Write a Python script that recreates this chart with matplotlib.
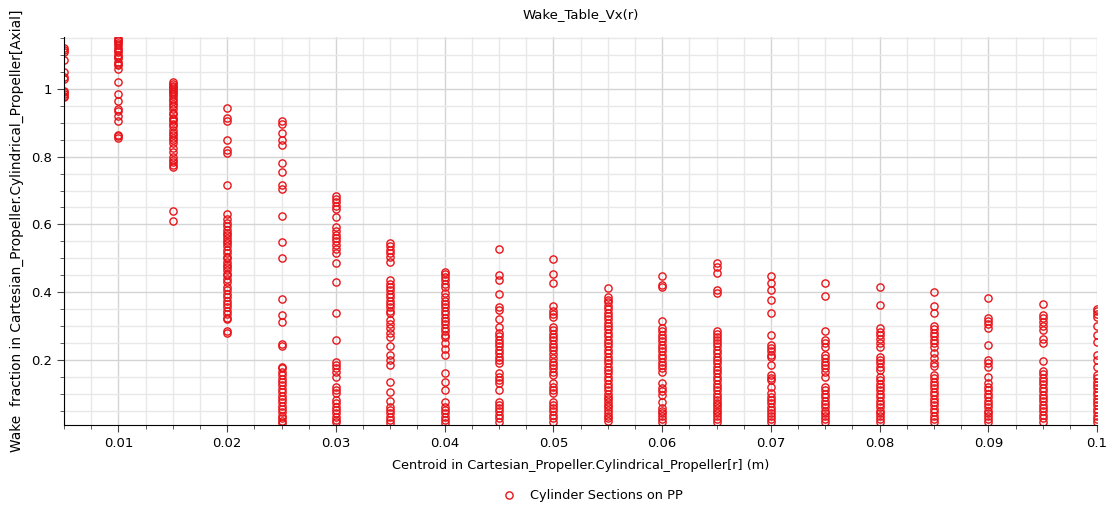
import numpy as np
import matplotlib
matplotlib.use("Agg")
import matplotlib.pyplot as plt
from matplotlib.ticker import MultipleLocator, FuncFormatter

# radial positions of the cylinder sections (m)
radii = [0.005, 0.01, 0.015, 0.02, 0.025, 0.03, 0.035, 0.04, 0.045, 0.05,
         0.055, 0.06, 0.065, 0.07, 0.075, 0.08, 0.085, 0.09, 0.095, 0.1]

# wake fraction values read per radius
wake_r005 = [1.12, 1.115, 1.11, 1.085, 1.05, 1.035, 1.03, 0.995, 0.99, 0.985, 0.98, 0.975]
wake_r010 = [1.15, 1.145, 1.14, 1.135, 1.13, 1.12, 1.115, 1.11, 1.10, 1.095, 1.09, 1.08, 1.075,
             1.07, 1.06, 1.02, 0.985, 0.965, 0.94, 0.935, 0.92, 0.905, 0.865, 0.86, 0.855]
wake_r015 = [1.02, 1.015, 1.01, 1.005, 1.0, 0.995, 0.99, 0.985, 0.98, 0.97, 0.965, 0.955, 0.95,
             0.94, 0.93, 0.925, 0.915, 0.91, 0.905, 0.895, 0.89, 0.88, 0.87, 0.865, 0.855, 0.85,
             0.84, 0.825, 0.815, 0.80, 0.79, 0.785, 0.775, 0.77, 0.64, 0.61]
wake_r020 = [0.945, 0.915, 0.905, 0.85, 0.82, 0.81, 0.715, 0.63, 0.615, 0.605, 0.595, 0.585,
             0.575, 0.57, 0.56, 0.55, 0.545, 0.535, 0.525, 0.515, 0.505, 0.50, 0.49, 0.48, 0.475,
             0.465, 0.455, 0.45, 0.44, 0.43, 0.415, 0.405, 0.395, 0.385, 0.375, 0.365, 0.355,
             0.345, 0.335, 0.325, 0.32, 0.285, 0.28]
wake_r025 = [0.905, 0.895, 0.87, 0.85, 0.835, 0.78, 0.755, 0.715, 0.705, 0.625, 0.548, 0.502,
             0.38, 0.333, 0.313, 0.248, 0.24, 0.18, 0.175, 0.165, 0.155, 0.145, 0.135, 0.125,
             0.115, 0.105, 0.095, 0.085, 0.075, 0.065, 0.055, 0.045, 0.035, 0.028, 0.02, 0.014]
wake_r030 = [0.685, 0.675, 0.665, 0.655, 0.645, 0.622, 0.593, 0.58, 0.57, 0.56, 0.55, 0.54,
             0.528, 0.515, 0.485, 0.431, 0.34, 0.259, 0.195, 0.185, 0.175, 0.165, 0.151, 0.121,
             0.11, 0.102, 0.082, 0.072, 0.062, 0.052, 0.042, 0.032, 0.024, 0.016]
wake_r035 = [0.544, 0.535, 0.525, 0.515, 0.505, 0.49, 0.436, 0.425, 0.415, 0.405, 0.395, 0.385,
             0.375, 0.365, 0.355, 0.345, 0.338, 0.318, 0.305, 0.295, 0.28, 0.269, 0.242, 0.215,
             0.2, 0.185, 0.136, 0.106, 0.08, 0.062, 0.052, 0.042, 0.032, 0.024, 0.014]
wake_r040 = [0.461, 0.455, 0.445, 0.435, 0.425, 0.416, 0.397, 0.385, 0.375, 0.365, 0.355, 0.345,
             0.335, 0.325, 0.315, 0.305, 0.295, 0.285, 0.275, 0.269, 0.249, 0.232, 0.215, 0.161,
             0.136, 0.111, 0.077, 0.062, 0.052, 0.042, 0.032, 0.022, 0.013]
wake_r045 = [0.527, 0.451, 0.436, 0.395, 0.357, 0.348, 0.321, 0.298, 0.279, 0.27, 0.26, 0.25,
             0.24, 0.23, 0.22, 0.21, 0.2, 0.19, 0.161, 0.15, 0.14, 0.131, 0.111, 0.077, 0.068,
             0.058, 0.048, 0.038, 0.028, 0.018]
wake_r050 = [0.498, 0.454, 0.428, 0.359, 0.345, 0.335, 0.328, 0.298, 0.288, 0.278, 0.268, 0.258,
             0.248, 0.238, 0.228, 0.218, 0.205, 0.195, 0.185, 0.175, 0.165, 0.156, 0.131, 0.12,
             0.11, 0.102, 0.077, 0.068, 0.058, 0.048, 0.038, 0.028, 0.018]
wake_r055 = [0.411, 0.387, 0.378, 0.37, 0.36, 0.35, 0.34, 0.33, 0.32, 0.31, 0.3, 0.29, 0.28,
             0.27, 0.26, 0.25, 0.24, 0.23, 0.22, 0.21, 0.2, 0.19, 0.18, 0.17, 0.16, 0.15, 0.14,
             0.13, 0.12, 0.11, 0.1, 0.092, 0.084, 0.076, 0.068, 0.06, 0.052, 0.044, 0.036,
             0.028, 0.02]
wake_r060 = [0.449, 0.421, 0.415, 0.315, 0.293, 0.284, 0.275, 0.265, 0.255, 0.245, 0.235, 0.225,
             0.215, 0.205, 0.195, 0.185, 0.175, 0.165, 0.131, 0.117, 0.107, 0.097, 0.077, 0.058,
             0.05, 0.042, 0.034, 0.026, 0.018]
wake_r065 = [0.487, 0.473, 0.456, 0.407, 0.398, 0.284, 0.276, 0.268, 0.26, 0.25, 0.24, 0.23,
             0.22, 0.21, 0.2, 0.19, 0.18, 0.17, 0.16, 0.15, 0.14, 0.13, 0.12, 0.11, 0.1, 0.09,
             0.082, 0.074, 0.066, 0.058, 0.05, 0.042, 0.034, 0.026, 0.018]
wake_r070 = [0.449, 0.426, 0.405, 0.377, 0.338, 0.274, 0.244, 0.235, 0.225, 0.215, 0.21, 0.185,
             0.156, 0.148, 0.141, 0.121, 0.102, 0.092, 0.082, 0.072, 0.062, 0.052, 0.042, 0.034,
             0.026, 0.018]
wake_r075 = [0.426, 0.39, 0.286, 0.259, 0.25, 0.239, 0.215, 0.205, 0.195, 0.185, 0.175, 0.165,
             0.151, 0.121, 0.11, 0.1, 0.09, 0.08, 0.07, 0.06, 0.05, 0.042, 0.034, 0.026, 0.018]
wake_r080 = [0.416, 0.361, 0.293, 0.283, 0.273, 0.263, 0.25, 0.239, 0.21, 0.2, 0.19, 0.18, 0.17,
             0.151, 0.14, 0.13, 0.12, 0.11, 0.1, 0.09, 0.08, 0.07, 0.06, 0.05, 0.042, 0.034,
             0.026, 0.018]
wake_r085 = [0.4, 0.359, 0.34, 0.3, 0.29, 0.28, 0.27, 0.26, 0.249, 0.239, 0.22, 0.205, 0.192,
             0.182, 0.156, 0.146, 0.136, 0.126, 0.116, 0.106, 0.096, 0.086, 0.076, 0.066, 0.056,
             0.046, 0.036, 0.026, 0.018]
wake_r090 = [0.382, 0.323, 0.315, 0.305, 0.293, 0.244, 0.2, 0.19, 0.18, 0.151, 0.131, 0.12,
             0.11, 0.1, 0.09, 0.08, 0.07, 0.06, 0.05, 0.042, 0.034, 0.026, 0.018]
wake_r095 = [0.364, 0.333, 0.323, 0.313, 0.3, 0.289, 0.262, 0.249, 0.198, 0.168, 0.158, 0.148,
             0.138, 0.128, 0.118, 0.108, 0.098, 0.088, 0.078, 0.068, 0.058, 0.048, 0.038, 0.028,
             0.018]
wake_r100 = [0.351, 0.343, 0.335, 0.328, 0.3, 0.274, 0.254, 0.215, 0.2, 0.18, 0.156, 0.146,
             0.136, 0.126, 0.116, 0.106, 0.096, 0.086, 0.076, 0.066, 0.056, 0.046, 0.036, 0.026,
             0.018]

columns = [wake_r005, wake_r010, wake_r015, wake_r020, wake_r025, wake_r030, wake_r035,
           wake_r040, wake_r045, wake_r050, wake_r055, wake_r060, wake_r065, wake_r070,
           wake_r075, wake_r080, wake_r085, wake_r090, wake_r095, wake_r100]

xs = np.concatenate([[r] * len(c) for r, c in zip(radii, columns)])
ys = np.concatenate(columns)

plt.rcParams['font.family'] = ['DejaVu Sans']
fig = plt.figure(figsize=(11.12, 5.08), dpi=100)
ax = fig.add_axes([0.0576, 0.1634, 0.9290, 0.7636])

red = '#e8141a'
ax.plot(xs, ys, linestyle='none', marker='o', markersize=5.2, markerfacecolor='none',
        markeredgecolor=red, markeredgewidth=1.0, label='Cylinder Sections on PP')

ax.set_xlim(0.005, 0.1)
ax.set_ylim(0.008, 1.153)

ax.xaxis.set_major_locator(MultipleLocator(0.01))
ax.xaxis.set_minor_locator(MultipleLocator(0.0025))
ax.yaxis.set_major_locator(MultipleLocator(0.2))
ax.yaxis.set_minor_locator(MultipleLocator(0.05))
ax.xaxis.set_major_formatter(FuncFormatter(lambda v, p: '%g' % round(v, 4)))
ax.yaxis.set_major_formatter(FuncFormatter(lambda v, p: '%g' % round(v, 4)))

ax.grid(which='major', color='#d4d4d4', linewidth=1.0)
ax.grid(which='minor', color='#e8e8e8', linewidth=1.0)
ax.set_axisbelow(True)

ax.tick_params(axis='both', which='major', labelsize=9.5, length=5, color='#444444')
ax.tick_params(axis='both', which='minor', length=3, color='#444444')
ax.tick_params(axis='x', pad=4)

for s in ['top', 'right']:
    ax.spines[s].set_visible(False)
ax.spines['left'].set_color('black')
ax.spines['bottom'].set_color('black')

ax.set_title('Wake_Table_Vx(r)', fontsize=9.5, pad=14)
ax.set_xlabel('Centroid in Cartesian_Propeller.Cylindrical_Propeller[r] (m)', fontsize=9.3, labelpad=6)
ax.set_ylabel('Wake  fraction in Cartesian_Propeller.Cylindrical_Propeller[Axial]', fontsize=9.9, labelpad=5)

fig.legend(loc='lower center', bbox_to_anchor=(0.53, -0.012), frameon=False, fontsize=9.3,
           handletextpad=0.6)

fig.savefig('out.png', dpi=100)
